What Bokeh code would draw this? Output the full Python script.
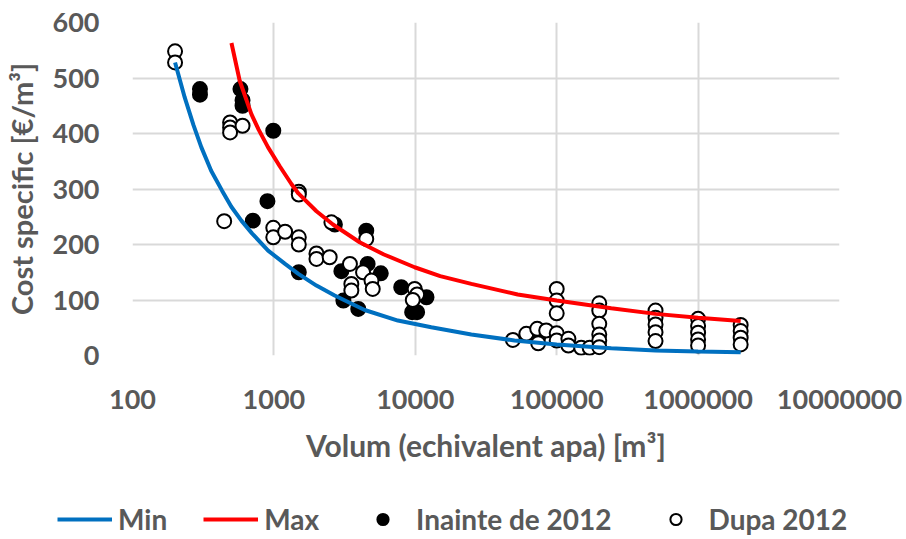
from bokeh.plotting import figure
from bokeh.layouts import column
from bokeh.models import FixedTicker, NumeralTickFormatter, Legend, LegendItem, ColumnDataSource
from bokeh.embed import file_html
from bokeh.resources import INLINE

# ---- data ----
x_ticks = [100, 1000, 10000, 100000, 1000000, 10000000]
y_ticks = [0, 100, 200, 300, 400, 500, 600]

min_x = [200, 234, 270, 307, 360, 430, 500, 589, 700, 910, 1200, 1490, 2000, 2690,
         4385, 7530, 12970, 24900, 50300, 100000, 243000, 500000, 1000000, 2000000]
min_y = [528, 465, 415, 375, 333, 297, 268, 243, 220, 189, 165, 147, 126, 108,
         82, 63, 51, 38, 27, 20, 13, 9, 7, 6]

max_x = [501, 573, 693, 780, 910, 1100, 1330, 1490, 2000, 2617, 4040, 6000, 9890,
         15000, 24900, 53000, 100000, 243000, 500000, 1000000, 2000000]
max_y = [563, 495, 435, 407, 375, 341, 309, 292, 260, 236, 204, 182, 159,
         143, 129, 110, 99, 85, 75, 68, 62]

before_x = [300, 300, 580, 600, 600, 990, 900, 710, 1500, 2700, 4500, 3000, 4600,
            5700, 3100, 3950, 7950, 12000, 9500, 10300, 74000]
before_y = [470, 480, 480, 460, 450, 405, 278, 243, 150, 236, 225, 152, 165,
            148, 99, 84, 123, 105, 78, 78, 33]

after_x = [200, 200, 490, 490, 490, 600, 1500, 1500, 445, 990, 990, 1200, 1500, 1500,
           2000, 2000, 2480, 2550, 4500, 3450, 3530, 3530, 4270, 4900, 5000,
           9900, 10300, 9600,
           49000, 61000, 72800, 84300, 74000,
           100000, 100000, 100000, 100000, 100000, 121000, 121000, 149000, 171000,
           200000, 200000, 200000, 200000, 200000, 200000,
           500000, 500000, 500000, 500000, 500000,
           1000000, 1000000, 1000000, 1000000, 1000000,
           2000000, 2000000, 2000000, 2000000]
after_y = [548, 528, 420, 411, 402, 414, 295, 290, 242, 230, 213, 223, 213, 200,
           184, 174, 177, 240, 210, 165, 129, 117, 150, 135, 120,
           120, 110, 100,
           28, 39, 48, 45, 22,
           120, 99, 76, 40, 27, 30, 18, 14, 14,
           94, 81, 57, 38, 27, 15,
           81, 68, 56, 42, 26,
           66, 53, 41, 29, 18,
           55, 44, 32, 20]

legend_labels = ["Min", "Max", "Inainte de 2012", "Dupa 2012"]

FONT = "Lato"
TXT = "#595959"
GRID = "#d9d9d9"
BLUE = "#0070C0"
RED = "#FF0000"

p = figure(x_axis_type="log", x_range=(100, 10000000), y_range=(0, 600),
           frame_width=707, frame_height=333,
           min_border_left=131, min_border_right=68, min_border_top=22, min_border_bottom=125,
           output_backend="svg", toolbar_location=None)
p.outline_line_color = None
p.background_fill_color = "white"
p.border_fill_color = "white"

p.xaxis.ticker = FixedTicker(ticks=x_ticks)
p.xaxis.formatter = NumeralTickFormatter(format="0")
p.yaxis.ticker = FixedTicker(ticks=y_ticks)

for ax in (p.xaxis[0], p.yaxis[0]):
    ax.axis_line_color = None
    ax.major_tick_line_color = None
    ax.minor_tick_line_color = None
    ax.major_tick_out = 0
    ax.major_tick_in = 0
    ax.minor_tick_out = 0
    ax.major_label_text_font = FONT
    ax.major_label_text_font_size = "27px"
    ax.major_label_text_font_style = "bold"
    ax.major_label_text_color = TXT
    ax.axis_label_text_font = FONT
    ax.axis_label_text_font_style = "bold"
    ax.axis_label_text_color = TXT

p.xaxis.axis_label = "Volum (echivalent apa) [m³]"
p.yaxis.axis_label = "Cost specific [€/m³]"
p.xaxis.axis_label_text_font_size = "30px"
p.yaxis.axis_label_text_font_size = "29px"
p.xaxis.major_label_standoff = 34
p.xaxis.axis_label_standoff = 15
p.yaxis.major_label_standoff = 33
p.yaxis.axis_label_standoff = 11

p.xgrid.grid_line_color = GRID
p.ygrid.grid_line_color = GRID
p.xgrid.grid_line_width = 2
p.ygrid.grid_line_width = 2

src_before = ColumnDataSource(dict(x=before_x, y=before_y))
src_after = ColumnDataSource(dict(x=after_x, y=after_y))
src_min = ColumnDataSource(dict(x=min_x, y=min_y))
src_max = ColumnDataSource(dict(x=max_x, y=max_y))

p.scatter("x", "y", source=src_before, size=14, marker="circle",
          fill_color="black", line_color="black", line_width=2)
p.scatter("x", "y", source=src_after, size=14, marker="circle",
          fill_color="white", line_color="black", line_width=2)
p.line("x", "y", source=src_min, line_color=BLUE, line_width=4)
p.line("x", "y", source=src_max, line_color=RED, line_width=4)

# ---- legend strip below the chart (key renderers sit outside its visible range) ----
q = figure(frame_width=906, frame_height=59, x_range=(0, 1), y_range=(0, 1),
           min_border=0, output_backend="svg", toolbar_location=None,
           x_axis_location=None, y_axis_location=None)
q.outline_line_color = None
q.xgrid.visible = False
q.ygrid.visible = False
q.background_fill_color = "white"
q.border_fill_color = "white"

hidden = dict(x=[-5, -4], y=[-5, -4])
l_min = q.line("x", "y", source=ColumnDataSource(hidden), line_color=BLUE, line_width=4)
l_max = q.line("x", "y", source=ColumnDataSource(hidden), line_color=RED, line_width=4)
l_before = q.scatter("x", "y", source=ColumnDataSource(hidden), marker="circle", size=14,
                     fill_color="black", line_color="black", line_width=2)
l_after = q.scatter("x", "y", source=ColumnDataSource(hidden), marker="circle", size=14,
                    fill_color="white", line_color="black", line_width=2)

legend = Legend(items=[LegendItem(label=lab, renderers=[r]) for lab, r in
                       zip(legend_labels, [l_min, l_max, l_before, l_after])],
                orientation="horizontal", location=(57, 3),
                glyph_width=55, glyph_height=28, label_height=28,
                label_standoff=6, spacing=36, padding=0, margin=0,
                border_line_color=None, background_fill_alpha=0,
                label_text_font=FONT, label_text_font_size="28px",
                label_text_font_style="bold", label_text_color=TXT)
q.add_layout(legend, "center")

layout = column(p, q, spacing=0)
open("out.html", "w").write(file_html(layout, INLINE))
